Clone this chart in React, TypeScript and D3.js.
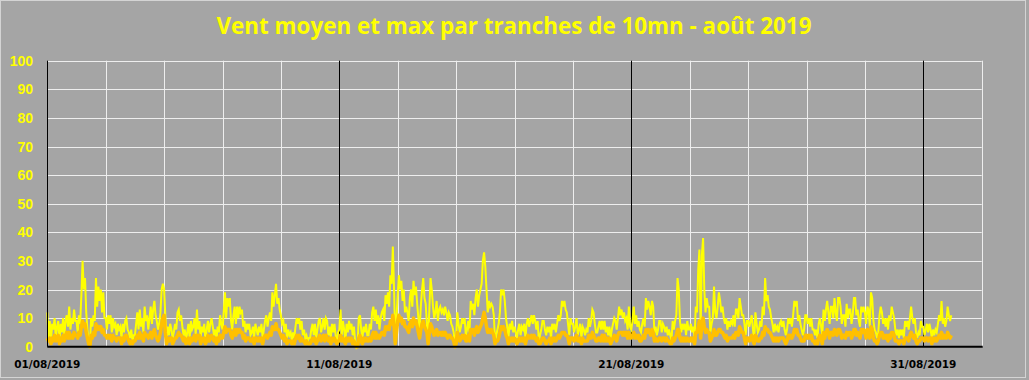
import React from 'react';
import * as d3 from 'd3';

const title = 'Vent moyen et max par tranches de 10mn - août 2019';
const yTicks = [0, 10, 20, 30, 40, 50, 60, 70, 80, 90, 100];
const xLabelDays = [0, 10, 20, 30];
const xLabels = ['01/08/2019', '11/08/2019', '21/08/2019', '31/08/2019'];
const gridDays = [2, 4, 6, 8, 10, 12, 14, 16, 18, 20, 22, 24, 26, 28, 30, 32];
const majorDays = [10, 20, 30];

// hourly max wind (km/h), 24 values per day, 01/08 .. 31/08
const maxWind = [
  12, 3, 9, 2, 8, 6, 10, 3, 7, 9, 2, 8, 5, 10, 4, 9, 11, 7, 14, 6, 10, 8, 13, 9,
  9, 5, 11, 8, 18, 30, 20, 24, 12, 6, 2, 0, 10, 7, 11, 9, 24, 14, 21, 16, 20, 12, 19, 10,
  10, 6, 11, 8, 11, 5, 10, 7, 8, 4, 8, 6, 7, 3, 8, 5, 9, 10, 6, 5, 3, 6, 2, 4,
  4, 8, 12, 6, 13, 7, 10, 5, 14, 9, 11, 6, 10, 14, 8, 13, 16, 11, 9, 6, 8, 12, 20, 22,
  20, 11, 3, 7, 4, 8, 6, 3, 5, 8, 6, 12, 13, 9, 11, 7, 4, 6, 2, 5, 8, 3, 9, 6,
  7, 10, 4, 13, 6, 9, 3, 7, 5, 8, 2, 6, 9, 5, 8, 10, 7, 4, 6, 2, 7, 5, 11, 8,
  6, 12, 19, 10, 17, 14, 17, 9, 6, 11, 14, 8, 14, 10, 14, 12, 13, 7, 9, 5, 8, 6, 8, 4,
  5, 7, 3, 8, 6, 4, 7, 5, 8, 3, 6, 9, 11, 7, 10, 12, 9, 19, 14, 18, 22, 15, 17, 13,
  11, 8, 9, 5, 8, 3, 6, 4, 5, 2, 5, 3, 7, 10, 8, 10, 6, 9, 4, 6, 3, 4, 2, 3,
  3, 6, 8, 4, 8, 3, 6, 9, 10, 5, 7, 10, 6, 10, 9, 4, 7, 3, 8, 5, 8, 4, 2, 5,
  6, 13, 4, 9, 6, 2, 8, 5, 9, 6, 8, 4, 7, 2, 0, 1, 10, 11, 6, 3, 7, 5, 8, 4,
  4, 8, 6, 12, 14, 9, 13, 8, 11, 6, 10, 12, 13, 9, 18, 15, 19, 14, 25, 22, 35, 20, 2, 10,
  18, 25, 20, 23, 16, 20, 12, 14, 12, 9, 17, 20, 14, 23, 18, 21, 15, 10, 6, 14, 20, 24, 17, 15,
  8, 2, 13, 24, 20, 14, 10, 12, 16, 9, 13, 14, 12, 13, 11, 14, 12, 9, 12, 11, 8, 7, 5, 1,
  3, 12, 8, 5, 7, 10, 8, 10, 4, 6, 9, 5, 16, 13, 15, 11, 17, 20, 14, 18, 20, 22, 30, 33,
  28, 20, 12, 16, 14, 15, 14, 11, 2, 4, 6, 8, 12, 20, 18, 20, 16, 10, 7, 3, 8, 6, 9, 5,
  7, 5, 3, 6, 8, 4, 7, 6, 8, 3, 8, 10, 7, 9, 11, 8, 11, 9, 6, 9, 2, 4, 6, 9,
  9, 6, 4, 7, 5, 7, 3, 8, 6, 8, 5, 8, 11, 9, 11, 16, 14, 16, 13, 12, 8, 4, 10, 8,
  8, 5, 7, 10, 4, 6, 8, 3, 7, 6, 4, 6, 5, 10, 7, 9, 13, 12, 8, 5, 5, 7, 9, 6,
  9, 6, 9, 5, 7, 4, 7, 3, 6, 8, 10, 9, 6, 10, 14, 11, 13, 10, 12, 9, 10, 6, 14, 7,
  6, 9, 14, 8, 11, 7, 9, 6, 5, 8, 10, 7, 17, 13, 16, 14, 11, 16, 14, 5, 7, 4, 6, 9,
  9, 5, 8, 7, 5, 7, 4, 6, 4, 2, 9, 6, 9, 11, 24, 20, 9, 5, 8, 6, 8, 4, 9, 6,
  6, 8, 5, 7, 3, 14, 12, 27, 34, 5, 32, 38, 20, 12, 17, 14, 14, 5, 8, 10, 21, 12, 10, 14,
  19, 16, 12, 14, 10, 8, 10, 6, 9, 7, 9, 8, 11, 7, 13, 13, 10, 17, 14, 11, 11, 8, 4, 9,
  9, 7, 9, 11, 6, 2, 12, 8, 5, 6, 9, 7, 14, 11, 24, 16, 18, 14, 13, 10, 8, 5, 8, 6,
  7, 5, 8, 9, 7, 9, 6, 4, 6, 10, 8, 10, 7, 11, 16, 14, 16, 9, 11, 8, 6, 4, 6, 11,
  11, 8, 10, 7, 10, 6, 6, 4, 6, 3, 8, 10, 7, 4, 13, 9, 13, 16, 12, 8, 14, 14, 10, 17,
  12, 9, 17, 17, 14, 8, 11, 11, 7, 15, 10, 13, 13, 8, 11, 17, 17, 11, 13, 9, 7, 14, 12, 14,
  12, 8, 14, 13, 7, 19, 17, 9, 6, 5, 3, 5, 11, 14, 12, 8, 10, 7, 10, 6, 11, 9, 14, 12,
  10, 6, 4, 6, 3, 6, 4, 6, 3, 9, 7, 9, 6, 10, 14, 10, 8, 10, 5, 3, 5, 4, 9, 7,
  7, 4, 6, 8, 5, 8, 6, 3, 6, 4, 6, 5, 8, 11, 9, 16, 8, 10, 7, 9, 14, 11, 9, 11,
];

// hourly mean wind (km/h), 24 values per day
const meanWind = [
  3, 2, 3, 1, 3, 2, 4, 2, 3, 4, 1, 3, 2, 4, 2, 4, 5, 3, 5, 3, 4, 3, 5, 4,
  4, 3, 5, 4, 7, 9, 7, 8, 5, 3, 1, 0, 4, 3, 5, 4, 8, 6, 7, 6, 7, 5, 6, 4,
  4, 3, 4, 3, 4, 2, 4, 3, 3, 2, 3, 3, 3, 1, 3, 2, 4, 4, 3, 2, 1, 2, 1, 2,
  2, 3, 4, 3, 5, 3, 4, 2, 5, 4, 4, 3, 4, 5, 3, 5, 6, 4, 3, 2, 3, 5, 8, 10,
  11, 5, 1, 3, 2, 3, 3, 1, 2, 3, 3, 4, 5, 4, 4, 3, 2, 3, 1, 2, 3, 1, 3, 2,
  3, 4, 2, 4, 3, 4, 1, 3, 2, 3, 1, 2, 4, 2, 3, 4, 3, 2, 3, 1, 3, 2, 4, 3,
  3, 5, 7, 5, 6, 6, 6, 4, 3, 5, 6, 4, 6, 5, 6, 5, 5, 3, 4, 2, 3, 3, 3, 2,
  2, 3, 1, 3, 3, 2, 3, 2, 3, 1, 3, 4, 4, 3, 4, 5, 4, 7, 6, 6, 8, 6, 6, 5,
  4, 3, 4, 2, 3, 1, 2, 2, 2, 1, 2, 1, 3, 4, 3, 4, 2, 3, 2, 2, 1, 2, 1, 1,
  1, 2, 3, 2, 3, 1, 2, 3, 4, 2, 3, 4, 2, 4, 3, 2, 3, 1, 3, 2, 3, 2, 1, 2,
  2, 4, 2, 3, 2, 1, 3, 2, 3, 2, 3, 1, 2, 1, 0, 0, 3, 4, 2, 1, 3, 2, 3, 2,
  2, 3, 2, 4, 5, 3, 5, 3, 4, 3, 4, 5, 5, 4, 7, 6, 7, 6, 9, 8, 11, 7, 1, 5,
  9, 11, 9, 10, 8, 9, 7, 7, 6, 5, 8, 9, 7, 10, 8, 9, 7, 5, 3, 6, 8, 9, 7, 6,
  5, 1, 5, 8, 7, 5, 4, 5, 6, 4, 5, 5, 4, 5, 4, 5, 4, 3, 4, 4, 3, 3, 2, 0,
  1, 5, 3, 2, 3, 4, 3, 4, 2, 2, 4, 2, 6, 5, 6, 4, 6, 7, 5, 6, 7, 8, 10, 12,
  10, 7, 5, 6, 5, 6, 5, 4, 1, 2, 2, 3, 5, 7, 6, 7, 6, 4, 3, 1, 3, 2, 3, 2,
  3, 2, 1, 2, 3, 2, 3, 2, 3, 1, 3, 4, 3, 3, 4, 3, 4, 3, 2, 3, 1, 1, 2, 3,
  3, 2, 1, 2, 2, 3, 1, 3, 2, 3, 2, 3, 4, 3, 4, 5, 5, 5, 4, 4, 3, 1, 3, 3,
  3, 2, 3, 4, 2, 2, 3, 1, 3, 2, 2, 2, 2, 4, 3, 3, 5, 4, 3, 2, 2, 3, 3, 2,
  4, 2, 4, 2, 3, 2, 3, 1, 2, 3, 4, 3, 2, 4, 5, 5, 5, 4, 5, 4, 5, 3, 5, 3,
  3, 4, 5, 3, 4, 3, 4, 2, 2, 3, 4, 3, 6, 5, 6, 5, 4, 6, 5, 2, 3, 2, 2, 3,
  3, 2, 3, 3, 2, 3, 2, 2, 1, 1, 3, 2, 3, 4, 6, 6, 3, 2, 3, 2, 3, 2, 3, 2,
  2, 3, 2, 3, 1, 5, 5, 7, 9, 3, 8, 10, 7, 5, 6, 5, 5, 2, 3, 4, 6, 4, 4, 5,
  6, 6, 5, 5, 4, 3, 4, 2, 3, 3, 3, 3, 4, 3, 5, 5, 4, 7, 6, 5, 5, 3, 1, 3,
  3, 2, 3, 4, 2, 1, 4, 3, 2, 2, 3, 3, 5, 4, 7, 6, 6, 5, 5, 4, 3, 2, 3, 2,
  3, 2, 3, 3, 3, 3, 2, 1, 2, 4, 3, 4, 3, 4, 6, 5, 6, 4, 4, 3, 2, 2, 2, 4,
  4, 3, 4, 3, 4, 2, 2, 1, 2, 1, 3, 4, 3, 1, 5, 3, 5, 6, 5, 3, 5, 5, 4, 6,
  5, 4, 6, 6, 5, 3, 4, 4, 3, 5, 4, 5, 5, 3, 4, 6, 6, 4, 5, 4, 3, 6, 5, 6,
  5, 3, 6, 5, 3, 7, 6, 3, 2, 2, 1, 2, 4, 5, 5, 3, 4, 3, 4, 2, 4, 3, 5, 5,
  4, 2, 2, 2, 1, 2, 2, 2, 1, 3, 3, 3, 2, 4, 5, 4, 3, 4, 2, 1, 2, 2, 3, 3,
  3, 2, 3, 3, 2, 3, 3, 1, 3, 2, 3, 2, 3, 4, 3, 5, 3, 4, 3, 3, 5, 4, 3, 4,
];

const W = 1029;
const H = 380;
const BG = '#a5a5a5';
const GRID = '#eeeeee';

export default function App() {
  const start = new Date(Date.UTC(2019, 7, 1));
  const end = new Date(Date.UTC(2019, 8, 2));
  const x = d3.scaleUtc().domain([start, end]).range([47.3, 981.7]);
  const y = d3.scaleLinear().domain([0, 100]).range([346.7, 60.7]);
  const dayDate = (d: number) => new Date(start.getTime() + d * 86400000);
  const hourDate = (i: number) => new Date(start.getTime() + i * 3600000);

  const line = d3
    .line<number>()
    .x((_, i) => x(hourDate(i)))
    .y((d) => y(d));

  const x0 = x.range()[0];
  const x1 = x.range()[1];

  return (
    <svg
      width={W}
      height={H}
      style={{ position: 'absolute', left: 0, top: 0, display: 'block' }}
    >
      <rect x={0} y={0} width={W} height={H} fill={BG} />
      <rect x={0.5} y={0.5} width={1025} height={377} fill="none" stroke="#d4d4d4" strokeWidth={1} />

      <text
        x={514}
        y={34}
        textAnchor="middle"
        fill="#ffff00"
        fontFamily="'Open Sans', sans-serif"
        fontWeight="bold"
        fontSize={23}
        textLength={595}
        lengthAdjust="spacingAndGlyphs"
      >
        {title}
      </text>

      {/* horizontal gridlines */}
      {yTicks
        .filter((v) => v > 0)
        .map((v) => (
          <line key={'h' + v} x1={x0} x2={x1} y1={Math.round(y(v)) + 0.5} y2={Math.round(y(v)) + 0.5} stroke={GRID} strokeWidth={1} />
        ))}

      {/* vertical gridlines */}
      {gridDays
        .filter((d) => !majorDays.includes(d))
        .map((d) => (
          <line key={'v' + d} x1={Math.round(x(dayDate(d))) + 0.5} x2={Math.round(x(dayDate(d))) + 0.5} y1={y(100)} y2={y(0)} stroke={GRID} strokeWidth={1} />
        ))}
      {majorDays.map((d) => (
        <line key={'m' + d} x1={Math.round(x(dayDate(d))) + 0.5} x2={Math.round(x(dayDate(d))) + 0.5} y1={y(100)} y2={y(0)} stroke="#000" strokeWidth={1} />
      ))}

      {/* series */}
      <path d={line(maxWind) || ''} fill="none" stroke="#ffff00" strokeWidth={2} strokeLinejoin="miter" strokeMiterlimit={4} />
      <path d={line(meanWind) || ''} fill="none" stroke="#ffc000" strokeWidth={3.5} strokeLinejoin="round" />

      {/* axes */}
      <line x1={Math.round(x0) + 0.5} x2={Math.round(x0) + 0.5} y1={y(100)} y2={y(0)} stroke="#000" strokeWidth={1} />
      <line x1={x0} x2={x1 + 1} y1={y(0)} y2={y(0)} stroke="#000" strokeWidth={2} />

      {/* y tick labels */}
      {yTicks.map((v) => (
        <text
          key={'yl' + v}
          x={33}
          y={y(v) + 5}
          textAnchor="end"
          fill="#ffff00"
          fontFamily="'Liberation Sans', Arial, sans-serif"
          fontWeight="bold"
          fontSize={14}
        >
          {v}
        </text>
      ))}

      {/* x tick labels */}
      {xLabelDays.map((d, i) => (
        <text
          key={'xl' + d}
          x={x(dayDate(d))}
          y={368}
          textAnchor="middle"
          fill="#000"
          fontFamily="'DejaVu Sans', sans-serif"
          fontWeight="bold"
          fontSize={10.5}
        >
          {xLabels[i]}
        </text>
      ))}
    </svg>
  );
}
